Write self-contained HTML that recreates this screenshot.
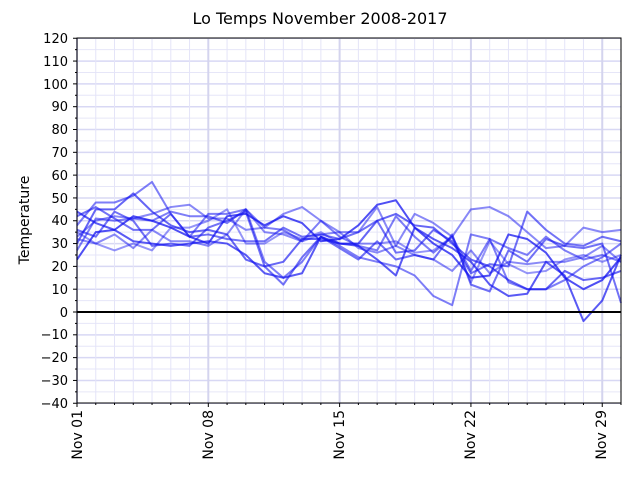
<!DOCTYPE html>
<html><head><meta charset="utf-8"><style>
body{margin:0;background:#fff}
svg{display:block;font-family:"DejaVu Sans","Liberation Sans",sans-serif}
</style></head><body>
<svg id="s" width="640" height="480" viewBox="0 0 640 480">
<rect width="640" height="480" fill="#fff"/>
<g id="grid"></g>
<g id="lines" fill="none" stroke-width="2" stroke-linejoin="round"></g>
<line x1="77" x2="621" y1="312" y2="312" stroke="#000" stroke-width="2"/>
<rect x="77" y="38" width="544" height="365" fill="none" stroke="#000" stroke-width="1"/>
<g id="ticks" stroke="#000" stroke-width="1"></g>
<text x="320" y="24" font-size="16" text-anchor="middle">Lo Temps November 2008-2017</text>
<g font-size="13" text-anchor="end">
<text x="68" y="43">120</text><text x="68" y="66">110</text><text x="68" y="89">100</text>
<text x="68" y="111">90</text><text x="68" y="134">80</text><text x="68" y="157">70</text>
<text x="68" y="180">60</text><text x="68" y="203">50</text><text x="68" y="225">40</text>
<text x="68" y="248">30</text><text x="68" y="271">20</text><text x="68" y="294">10</text>
<text x="68" y="317">0</text><text x="68" y="339">−10</text><text x="68" y="362">−20</text>
<text x="68" y="385">−30</text><text x="68" y="408">−40</text>
</g>
<text transform="translate(29,220) rotate(-90)" font-size="14" text-anchor="middle">Temperature</text>
<g font-size="14" text-anchor="end">
<text transform="translate(82,410) rotate(-90)">Nov 01</text>
<text transform="translate(213,410) rotate(-90)">Nov 08</text>
<text transform="translate(344,410) rotate(-90)">Nov 15</text>
<text transform="translate(475,410) rotate(-90)">Nov 22</text>
<text transform="translate(606,410) rotate(-90)">Nov 29</text>
</g>
</svg>
<script>
var NS="http://www.w3.org/2000/svg";
function X(d){return 77+d*18.7586;}
function Y(v){return 312-v*2.28125;}
function L(g,x1,y1,x2,y2,c,w){var l=document.createElementNS(NS,"line");l.setAttribute("x1",x1);l.setAttribute("y1",y1);l.setAttribute("x2",x2);l.setAttribute("y2",y2);l.setAttribute("stroke",c);l.setAttribute("stroke-width",w);g.appendChild(l);}
var g=document.getElementById("grid"),t=document.getElementById("ticks");
for(var v=-40;v<=120;v+=5){var y=Y(v);L(g,77,y,621,y,v%10==0?"#d8d8f4":"#e6e6f8",v%10==0?1.5:1);L(t,v%10==0?73:75,y,77,y,"#000",1);}
for(var d=0;d<=29;d++){var x=X(d);L(g,x,38,x,403,d%7==0?"#d4d4ee":"#e4e4f8",d%7==0?2:1);L(t,x,403,x,d%7==0?407:405,"#000",1);}
var S=[
[23,35,36,42,40,37,33,30,42,43,38,42,39,31,32,38,47,49,37,30,25,15,16,34,32,26,15,10,14,24],
[44,39,36,31,30,29,30,31,30,25,17,15,17,33,30,29,23,16,37,32,28,22,12,7,8,22,16,-4,5,25],
[30,45,45,52,44,38,35,36,34,23,20,22,32,32,30,30,40,43,38,37,30,23,20,14,10,10,18,14,15,18],
[38,48,48,51,57,43,33,43,43,45,22,15,22,33,29,24,22,20,16,7,3,34,32,13,10,10,14,20,24,30],
[36,33,44,40,29,30,29,37,40,44,20,12,24,33,28,23,31,23,25,23,34,12,9,27,22,32,29,28,30,4],
[33,40,42,41,43,46,47,41,41,36,37,43,46,40,35,35,46,29,43,39,33,45,46,42,35,28,29,37,35,36],
[35,30,27,30,27,37,37,40,45,30,30,35,32,35,30,30,30,31,26,27,33,13,31,21,17,18,23,25,22,25],
[27,41,40,41,40,44,42,42,39,45,37,36,31,40,33,29,27,42,33,26,33,18,32,28,25,33,27,23,25,22],
[32,30,34,28,36,31,31,29,34,45,35,34,31,34,35,28,26,29,25,23,18,27,17,22,21,22,22,24,29,22],
[42,46,41,36,36,43,33,34,32,31,31,37,33,34,32,35,40,26,27,36,31,17,21,20,44,36,30,29,33,31]];
var A=[0.75,0.7,0.65,0.55,0.6,0.5,0.45,0.55,0.5,0.6];
var lg=document.getElementById("lines");
S.forEach(function(s,i){var p=document.createElementNS(NS,"polyline");p.setAttribute("points",s.map(function(v,d){return X(d)+","+Y(v);}).join(" "));p.setAttribute("stroke","rgba(20,20,240,"+A[i]+")");lg.appendChild(p);});
</script>
</body></html>
